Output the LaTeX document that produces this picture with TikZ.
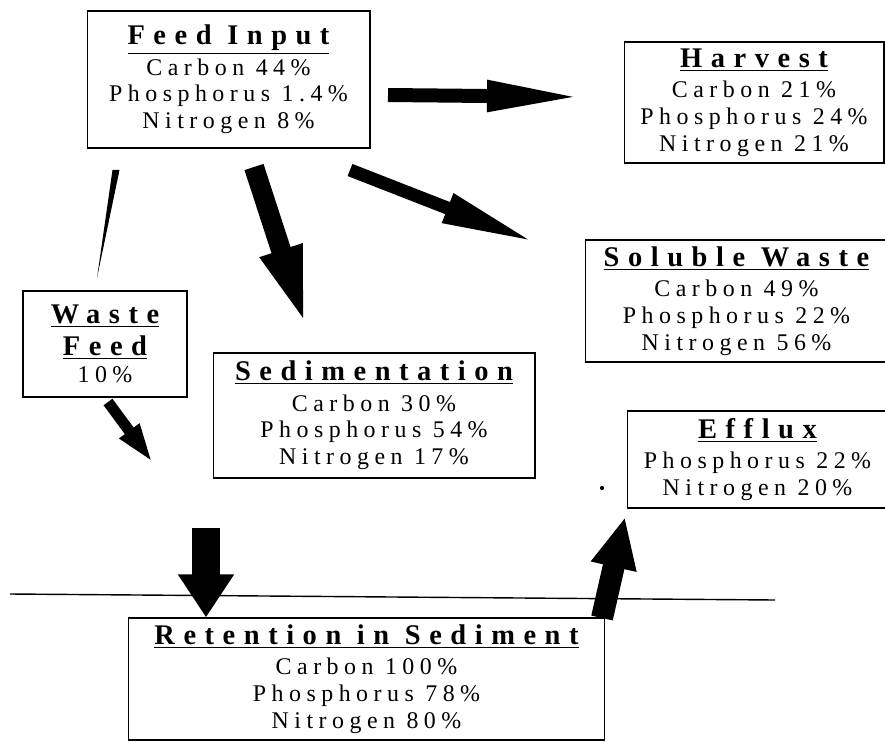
\documentclass[tikz,border=0pt]{standalone}
\usepackage{fontspec}
\setmainfont{Liberation Serif}[LetterSpace=23]
\newfontfamily\headfont{Liberation Serif}[LetterSpace=30]
\usetikzlibrary{arrows.meta}

\tikzset{
  box/.style={draw, line width=0.6pt, inner sep=0pt, align=center, font=\fontsize{13.6}{15.2}\selectfont},
  flow/.style n args={3}{line width=#1, -{Triangle[length=#2, width=#3]}},
}
\newcommand{\boxtitle}[1]{{\headfont\bfseries\fontsize{16.2}{17}\selectfont\underline{#1}}}

\begin{document}
\begin{tikzpicture}[x=0.02cm, y=-0.02cm]
    \useasboundingbox (0,0) rectangle (885,743);

    \node[box, minimum width=5.66cm, minimum height=2.74cm](feedInput) at (228.5,79.5) {\boxtitle{Feed Input}\\[2pt] Carbon 44\%\\ Phosphorus 1.4\%\\ Nitrogen 8\%};
    \node[box, minimum width=5.2cm, minimum height=2.42cm](harvest) at (754,102.5) {\boxtitle{Harvest}\\[2pt] Carbon 21\%\\ Phosphorus 24\%\\ Nitrogen 21\%};
    \node[box, minimum width=6.06cm, minimum height=2.44cm](solubleWaste) at (736.5,301) {\boxtitle{Soluble Waste}\\[2pt] Carbon 49\%\\ Phosphorus 22\%\\ Nitrogen 56\%};
    \node[box, minimum width=5.22cm, minimum height=1.94cm](efflux) at (757.5,459.5) {\boxtitle{Efflux}\\[2pt] Phosphorus 22\%\\ Nitrogen 20\%};
    \node[box, minimum width=3.28cm, minimum height=2.12cm](wasteFeed) at (105,344) {\boxtitle{Waste}\\[3pt] \boxtitle{Feed}\\ 10\%};
    \node[box, minimum width=6.44cm, minimum height=2.5cm](sedimentation) at (374,415.5) {\boxtitle{Sedimentation}\\[2pt] Carbon 30\%\\ Phosphorus 54\%\\ Nitrogen 17\%};
    \node[box, minimum width=9.54cm, minimum height=2.44cm](retention) at (366.5,679) {\boxtitle{Retention in Sediment}\\[2pt] Carbon 100\%\\ Phosphorus 78\%\\ Nitrogen 80\%};

    % free ends of the flows
    \coordinate (harvestTail) at (388,95);
    \coordinate (harvestTip) at (585,97);
    \coordinate (solubleTail) at (350,170);
    \coordinate (solubleTip) at (537,243);
    \coordinate (sedimentTail) at (254,167);
    \coordinate (sedimentTip) at (307,330);
    \coordinate (wasteTail) at (116,170);
    \coordinate (wasteTip) at (97,278);
    \coordinate (sinkTail) at (108,402);
    \coordinate (sinkTip) at (153,463);
    \coordinate (retentionTail) at (206,528);
    \coordinate (effluxTail) at (602,618);
    \coordinate (effluxTip) at (625,517);
    \coordinate (surfaceWest) at (10,594);
    \coordinate (surfaceEast) at (775,600);

    \draw [flow={0.28cm}{1.96cm}{0.56cm}] (harvestTail) -- (harvestTip);
    \draw [flow={0.26cm}{1.92cm}{0.56cm}] (solubleTail) -- (solubleTip);
    \draw [flow={0.4cm}{1.68cm}{0.76cm}] (sedimentTail) -- (sedimentTip);
    \fill ([xshift=-0.07cm]wasteTail) -- ([xshift=0.07cm]wasteTail) -- (wasteTip) -- cycle;
    \draw [flow={0.22cm}{0.8cm}{0.44cm}] (sinkTail) -- (sinkTip);
    \draw [flow={0.56cm}{0.86cm}{1.06cm}] (retentionTail) -- (retention.north -| retentionTail);
    \draw [flow={0.44cm}{1.02cm}{0.86cm}] (effluxTail) -- (effluxTip);

    \draw [line width=0.8pt] (surfaceWest) -- (surfaceEast);
    \fill (602,488) circle[radius=1.2pt];
\end{tikzpicture}
\end{document}
